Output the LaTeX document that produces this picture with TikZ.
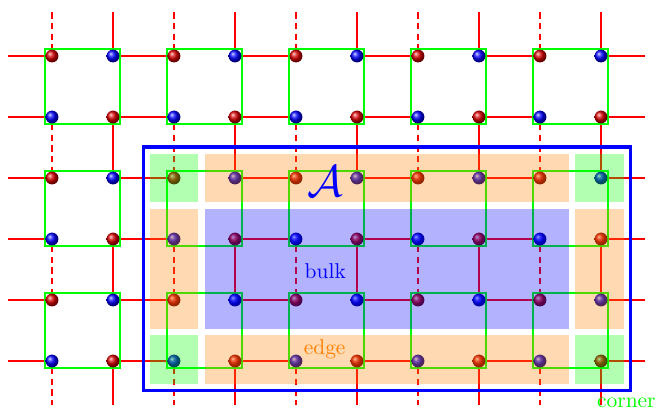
\documentclass[tikz,border=0pt]{standalone}
\usepackage{amsmath, amssymb}
\usepackage{tikz}
\usetikzlibrary{positioning, calc, fit}

\pgfdeclarelayer{bonds}
\pgfsetlayers{bonds,main}

\begin{document}
\begin{tikzpicture}[
    site/.style={circle, inner sep=0pt, minimum size=6pt, shading=ball},
    site0/.style={site, ball color=red!85!black},
    site1/.style={site, ball color=blue},
    bond/.style={red, line width=0.328mm},
    col0/.style={densely dashed},
    col1/.style={solid},
    plaq/.style={draw=green, line width=0.328mm, inner sep=0.1pt},
    region/.style={fill opacity=0.3}
  ]
    \useasboundingbox (-0.85246,0.91803) rectangle (9.90164,-5.80328);

    % Lattice sites
    \foreach \x in {0,...,9} {
        \foreach \y in {0,...,5} {
            \pgfmathtruncatemacro{\k}{mod(\x+\y,2)}
            \node[site\k] (n-\x-\y) at (\x,-\y) {};
        }
    }

    % Loose ends of the bonds
    \foreach \y in {0,...,5} {
        \coordinate (w-\y) at (-0.72,-\y);
        \coordinate (e-\y) at (9.72,-\y);
    }
    \foreach \x in {0,...,9} {
        \coordinate (top-\x) at (\x,0.72);
        \coordinate (bot-\x) at (\x,-5.72);
    }

    \begin{pgfonlayer}{bonds}
        % Horizontal bonds
        \foreach \y in {0,...,5} {
            \draw[bond] (w-\y) -- (n-0-\y);
            \foreach \p/\q in {1/2, 3/4, 5/6, 7/8}
                \draw[bond] (n-\p-\y) -- (n-\q-\y);
            \draw[bond] (n-9-\y) -- (e-\y);
        }
        % Vertical bonds (dashed on even columns)
        \foreach \x in {0,...,9} {
            \pgfmathtruncatemacro{\k}{mod(\x,2)}
            \draw[bond, col\k] (top-\x) -- (n-\x-0);
            \draw[bond, col\k] (n-\x-1) -- (n-\x-2);
            \draw[bond, col\k] (n-\x-3) -- (n-\x-4);
            \draw[bond, col\k] (n-\x-5) -- (bot-\x);
        }
        % Plaquettes
        \foreach \x in {0,2,4,6,8} {
            \foreach \y in {0,2,4} {
                \pgfmathtruncatemacro{\xx}{\x+1}
                \pgfmathtruncatemacro{\yy}{\y+1}
                \node[plaq, fit=(n-\x-\y) (n-\xx-\yy)] (p-\x-\y) {};
            }
        }
    \end{pgfonlayer}

    % Region A: corners, edges, bulk
    \fill[green, region] (1.6,-1.6) rectangle (2.4,-2.4);
    \fill[green, region] (8.58,-1.6) rectangle (9.38,-2.4);
    \fill[green, region] (1.6,-4.58) rectangle (2.4,-5.38);
    \fill[green, region] (8.58,-4.58) rectangle (9.38,-5.38);
    \fill[orange, region] (2.5,-1.6) rectangle (8.48,-2.4);
    \fill[orange, region] (2.5,-4.58) rectangle (8.48,-5.38);
    \fill[orange, region] (1.6,-2.5) rectangle (2.4,-4.48);
    \fill[orange, region] (8.58,-2.5) rectangle (9.38,-4.48);
    \fill[blue, region] (2.5,-2.5) rectangle (8.48,-4.48);
    \draw[blue, line width=0.574mm] (1.5,-1.49) rectangle (9.48,-5.48);

    % Labels
    \node[blue, font=\huge] (calA) at (4.48,-2.05) {$\mathcal{A}$};
    \node[blue] (bulk) at (4.48,-3.52) {bulk};
    \node[orange] (edgelbl) at (4.47,-4.8) {edge};
    \node[green, anchor=base west, inner sep=0pt] (cornerlbl) at (8.93,-5.77) {corner};
\end{tikzpicture}
\end{document}
